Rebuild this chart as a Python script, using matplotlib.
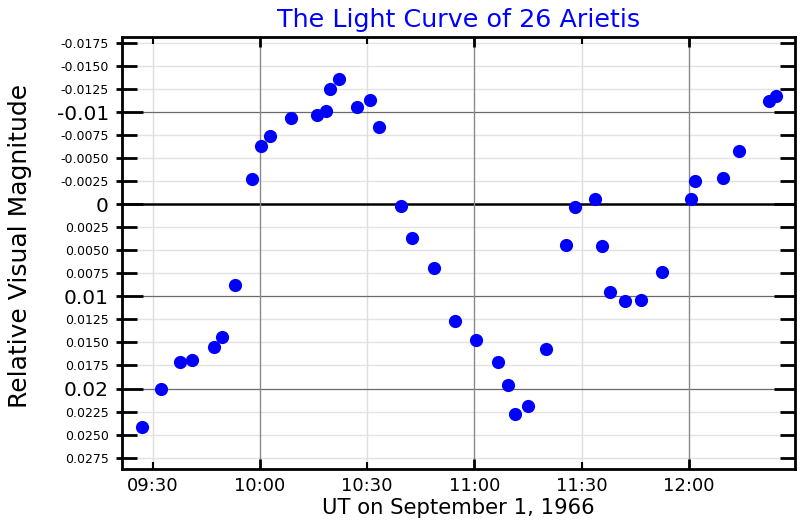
import matplotlib
matplotlib.use("Agg")
import matplotlib.pyplot as plt
import matplotlib.dates as mdates
import matplotlib.ticker as mticker
import pandas as pd
import numpy as np

plt.rcParams['font.family'] = ['DejaVu Sans']
plt.rcParams['axes.unicode_minus'] = False

# UT times on 1966-09-01 and relative visual magnitudes
times = ["09:26:54", "09:32:18", "09:37:36", "09:41:00", "09:47:00", "09:49:30",
         "09:53:06", "09:57:48", "10:00:24", "10:02:54", "10:08:36", "10:16:00",
         "10:18:36", "10:19:36", "10:22:12", "10:27:00", "10:30:54", "10:33:18",
         "10:39:30", "10:42:30", "10:48:48", "10:54:30", "11:00:24", "11:06:42",
         "11:09:30", "11:11:24", "11:14:54", "11:20:06", "11:25:42", "11:28:00",
         "11:33:42", "11:35:36", "11:37:54", "11:42:12", "11:46:30", "11:52:30",
         "12:00:30", "12:01:48", "12:09:30", "12:14:06", "12:22:18", "12:24:24"]
magnitudes = [0.0242, 0.0200, 0.0171, 0.0169, 0.0155, 0.0144,
              0.0087, -0.00275, -0.0063, -0.00745, -0.0094, -0.0097,
              -0.0102, -0.0125, -0.0136, -0.0106, -0.0114, -0.0084,
              0.0002, 0.0037, 0.0069, 0.0127, 0.0147, 0.0171,
              0.0196, 0.0228, 0.0219, 0.0157, 0.0044, 0.0003,
              -0.0006, 0.0045, 0.0095, 0.0105, 0.0104, 0.0073,
              -0.0006, -0.0025, -0.0029, -0.0058, -0.0112, -0.0118]

major_y = [-0.01, 0.0, 0.01, 0.02]
major_y_labels = ["-0.01", "0", "0.01", "0.02"]
minor_y = [-0.0175, -0.015, -0.0125, -0.0075, -0.005, -0.0025,
           0.0025, 0.005, 0.0075, 0.0125, 0.015, 0.0175, 0.0225, 0.025, 0.0275]
hour_ticks = ["10:00", "11:00", "12:00"]
half_hour_ticks = ["09:30", "10:30", "11:30"]

day = "1966-09-01 "
t = mdates.date2num(pd.to_datetime([day + s for s in times]))
hours = mdates.date2num(pd.to_datetime([day + s for s in hour_ticks]))
halves = mdates.date2num(pd.to_datetime([day + s for s in half_hour_ticks]))

fig = plt.figure(figsize=(8, 5.2), dpi=100)
ax = fig.add_axes([0.1525, 0.098, 0.8413, 0.831])

# grid
for y in minor_y:
    ax.axhline(y, color="#e3e3e3", lw=1.0, zorder=0)
for y in major_y:
    if y == 0:
        ax.axhline(y, color="black", lw=1.8, zorder=1)
    else:
        ax.axhline(y, color="#6a6a6a", lw=0.9, zorder=1)
for x in halves:
    ax.axvline(x, color="#dedede", lw=1.0, zorder=0)
for x in hours:
    ax.axvline(x, color="#8a8a8a", lw=1.0, zorder=1)

ax.plot(t, magnitudes, 'o', color="#0000ff", markersize=9.5, zorder=3,
        markeredgewidth=0)

xmin = mdates.date2num(pd.to_datetime(day + "09:21:24"))
xmax = mdates.date2num(pd.to_datetime(day + "12:29:40"))
ax.set_xlim(xmin, xmax)
ax.set_ylim(0.02875, -0.0182)

ax.set_xticks(list(hours))
ax.set_xticks(list(halves), minor=True)
fmt = mdates.DateFormatter("%H:%M")
ax.xaxis.set_major_formatter(fmt)
ax.xaxis.set_minor_formatter(fmt)

ax.set_yticks(major_y)
ax.set_yticklabels(major_y_labels)
ax.set_yticks(minor_y, minor=True)
ax.set_yticklabels(["%.4f" % v for v in minor_y], minor=True)

ax.tick_params(axis='y', which='major', direction='in', length=15, width=2,
               labelsize=14.5, left=True, right=True, pad=9.5)
ax.tick_params(axis='y', which='minor', direction='in', length=11, width=2,
               labelsize=9, left=True, right=True, pad=9.5)
ax.tick_params(axis='x', which='major', direction='in', length=7, width=2,
               labelsize=13, top=True, bottom=True, pad=6)
ax.tick_params(axis='x', which='minor', direction='in', length=5, width=1.5,
               labelsize=13, top=True, bottom=True, pad=6)

# short outside stubs on the left spine
sec = ax.secondary_yaxis('left')
sec.set_yticks(major_y + minor_y)
sec.tick_params(direction='out', length=4, width=2, labelleft=False)
sec.spines['left'].set_visible(False)
sec.yaxis.set_minor_locator(mticker.NullLocator())

for s in ax.spines.values():
    s.set_linewidth(2)
    s.set_color("black")

ax.set_title("The Light Curve of 26 Arietis", color="#0000ff", fontsize=18.3, pad=7)
ax.set_xlabel("UT on September 1, 1966", fontsize=15.2, labelpad=2)
ax.set_ylabel("Relative Visual Magnitude", fontsize=18)
ax.yaxis.set_label_coords(-0.134, 0.517)

fig.savefig("out.png", dpi=100)
